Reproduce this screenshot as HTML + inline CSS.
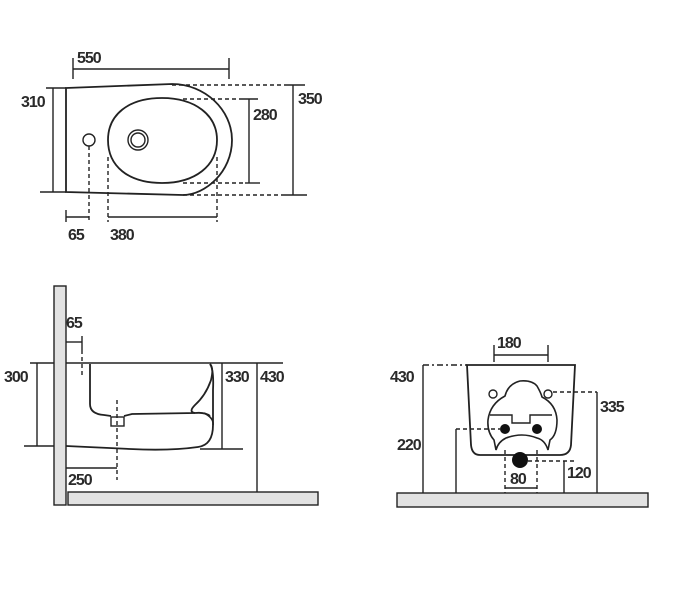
<!DOCTYPE html>
<html><head><meta charset="utf-8"><style>
html,body{margin:0;padding:0;background:#fff;width:676px;height:593px;overflow:hidden}
text{font-family:"Liberation Sans",Arial,sans-serif;font-size:16px;font-weight:bold;fill:#2a2a2a;letter-spacing:-1px}
</style></head><body>
<svg width="676" height="593" viewBox="0 0 676 593" xmlns="http://www.w3.org/2000/svg">
<g fill="none" stroke="#222" stroke-width="1.4">
<!-- TOP VIEW -->
<line x1="73" y1="69" x2="229" y2="69"/><line x1="73" y1="58" x2="73" y2="79"/><line x1="229" y1="58" x2="229" y2="79"/>
<path d="M66,88 L172,84 C205,84 232,110 232,140 C232,172 205,195 183,195 L66,192 Z" stroke-width="1.8"/>
<line x1="53" y1="88" x2="53" y2="192"/><line x1="46" y1="88" x2="66" y2="88"/><line x1="40" y1="192" x2="66" y2="192"/>
<path d="M162,98 C195,98 217,115 217,140 C217,166 195,183 162,183 C128,183 108,166 108,140 C108,115 128,98 162,98 Z" stroke-width="1.8"/>
<circle cx="138" cy="140" r="10"/><circle cx="138" cy="140" r="7"/>
<circle cx="89" cy="140" r="6"/>
<g stroke-dasharray="4,3"><line x1="89" y1="146" x2="89" y2="222"/><line x1="108" y1="157" x2="108" y2="222"/><line x1="217" y1="157" x2="217" y2="222"/>
<line x1="183" y1="99" x2="240" y2="99"/><line x1="183" y1="183" x2="245" y2="183"/>
<line x1="172" y1="85" x2="285" y2="85"/><line x1="183" y1="195" x2="285" y2="195"/></g>
<line x1="66" y1="217" x2="89" y2="217"/><line x1="66" y1="210" x2="66" y2="222"/>
<line x1="108" y1="217" x2="217" y2="217"/>
<line x1="249" y1="99" x2="249" y2="183"/><line x1="240" y1="99" x2="258" y2="99"/><line x1="245" y1="183" x2="260" y2="183"/>
<line x1="293" y1="85" x2="293" y2="195"/><line x1="285" y1="85" x2="305" y2="85"/><line x1="285" y1="195" x2="307" y2="195"/>

<!-- SIDE VIEW -->
<rect x="54" y="286" width="12" height="219" fill="#e2e2e2"/>
<rect x="68" y="492" width="250" height="13" fill="#e2e2e2"/>
<line x1="66" y1="342" x2="82" y2="342"/><line x1="82" y1="336" x2="82" y2="350"/>
<line x1="82" y1="350" x2="82" y2="377" stroke-dasharray="4,3"/>
<line x1="66" y1="363" x2="283" y2="363"/>
<line x1="37" y1="363" x2="37" y2="446"/><line x1="30" y1="363" x2="54" y2="363"/><line x1="24" y1="446" x2="54" y2="446"/>
<path d="M90,364 L90,404 Q90,414 104,415 L111,416 M124,416 L132,414 L195,413 Q205,412 210,416" stroke-width="1.8"/>
<path d="M210,364 Q214,368 211,380 Q206,395 195,405 Q188,412 195,413" stroke-width="1.8"/>
<path d="M210,364 Q214,370 213,390 L213,425 Q213,445 198,447 Q170,451 130,449 L66,446" stroke-width="1.8"/>
<path d="M204,413 Q214,418 213,425" stroke-width="1.6"/>
<rect x="111" y="417" width="13" height="9"/>
<line x1="117" y1="400" x2="117" y2="480" stroke-dasharray="4,3"/>
<line x1="66" y1="468" x2="117" y2="468"/>
<line x1="222" y1="363" x2="222" y2="449"/><line x1="200" y1="449" x2="243" y2="449"/>
<line x1="257" y1="363" x2="257" y2="492"/>

<!-- FRONT VIEW -->
<rect x="397" y="493" width="251" height="14" fill="#e2e2e2"/>
<path d="M467,365 L575,365 L571,445 Q570,455 560,455 L480,455 Q472,455 471,445 Z" stroke-width="1.8"/>
<line x1="494" y1="355" x2="548" y2="355"/><line x1="494" y1="345" x2="494" y2="362"/><line x1="548" y1="345" x2="548" y2="362"/>
<line x1="423" y1="365" x2="423" y2="493"/><line x1="423" y1="365" x2="467" y2="365" stroke-dasharray="6,3,2,3"/>
<circle cx="493" cy="394" r="4"/><circle cx="548" cy="394" r="4"/>
<line x1="597" y1="392" x2="597" y2="493"/><line x1="553" y1="392" x2="597" y2="392" stroke-dasharray="4,3"/>
<path d="M505,396 Q508,384 520,381 Q532,380 537,386 Q541,393 542,397 Q556,404 557,420 Q557,435 550,440 L548,450 Q545,440 537,438 Q522,432 506,438 Q498,442 496,450 L494,440 Q487,432 488,420 Q490,404 505,396 Z" stroke-width="1.6"/>
<path d="M490,415 L512,415 L512,423 L530,423 L530,415 L552,415" stroke-width="1.4"/>
<line x1="456" y1="429" x2="456" y2="493"/><line x1="456" y1="429" x2="500" y2="429" stroke-dasharray="4,3"/>
<g stroke-dasharray="4,3"><line x1="505" y1="450" x2="505" y2="493"/><line x1="537" y1="450" x2="537" y2="493"/><line x1="528" y1="461" x2="575" y2="461"/></g>
<line x1="505" y1="488" x2="537" y2="488"/>
<line x1="564" y1="461" x2="564" y2="493"/>
</g>
<g fill="#111"><circle cx="505" cy="429" r="5"/><circle cx="537" cy="429" r="5"/><circle cx="520" cy="460" r="8"/></g>

<text x="77" y="63">550</text>
<text x="21" y="107">310</text>
<text x="253" y="120">280</text>
<text x="298" y="104">350</text>
<text x="68" y="240">65</text>
<text x="110" y="240">380</text>
<text x="66" y="328">65</text>
<text x="4" y="382">300</text>
<text x="225" y="382">330</text>
<text x="260" y="382">430</text>
<text x="68" y="485">250</text>
<text x="497" y="348">180</text>
<text x="390" y="382">430</text>
<text x="600" y="412">335</text>
<text x="397" y="450">220</text>
<text x="510" y="484">80</text>
<text x="567" y="478">120</text>
</svg>
</body></html>
